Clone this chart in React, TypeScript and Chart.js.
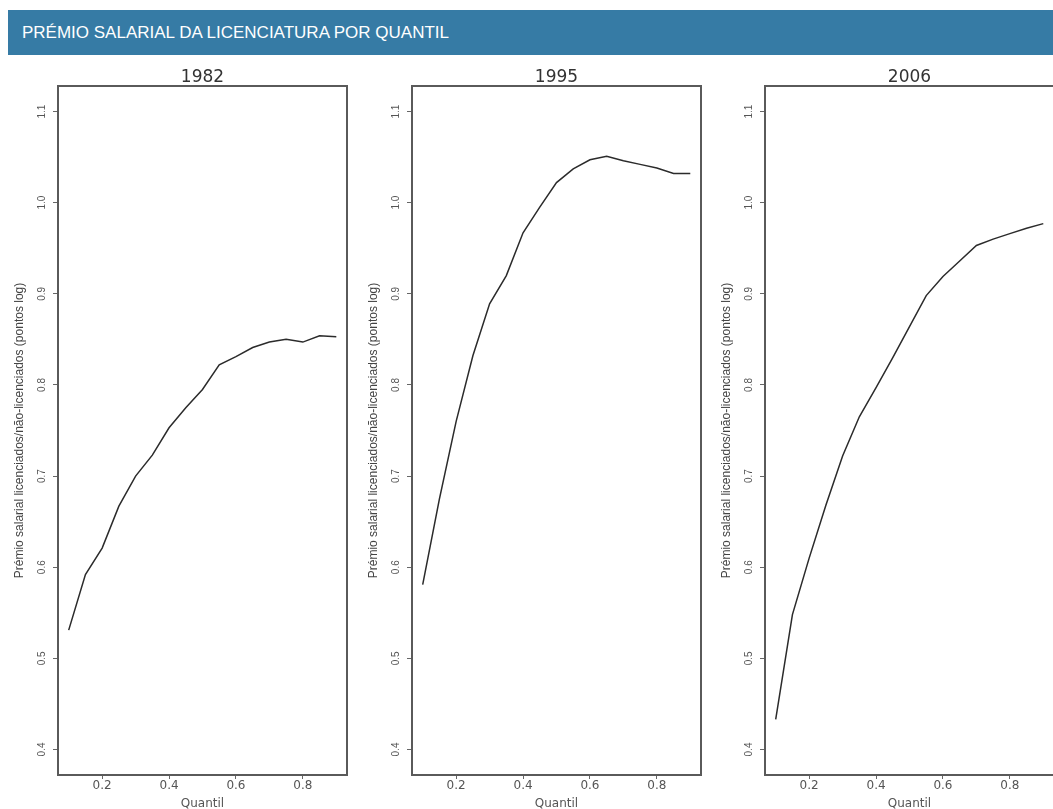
import React, { useEffect, useRef } from "react";
import { Chart, registerables } from "chart.js";

Chart.register(...registerables);

// ---------- data ----------
const headerTitle = "PRÉMIO SALARIAL DA LICENCIATURA POR QUANTIL";
const yAxisTitle = "Prémio salarial licenciados/não-licenciados (pontos log)";
const xAxisTitle = "Quantil";

const panelYears = ["1982", "1995", "2006"];

const quantiles = [0.1, 0.15, 0.2, 0.25, 0.3, 0.35, 0.4, 0.45, 0.5, 0.55, 0.6, 0.65, 0.7, 0.75, 0.8, 0.85, 0.9];

const premium1982 = [0.531, 0.592, 0.621, 0.667, 0.7, 0.723, 0.753, 0.775, 0.795, 0.822, 0.831, 0.841, 0.847, 0.85, 0.847, 0.854, 0.853];
const premium1995 = [0.581, 0.675, 0.76, 0.832, 0.889, 0.92, 0.967, 0.995, 1.022, 1.037, 1.047, 1.051, 1.046, 1.042, 1.038, 1.032, 1.032];
const premium2006 = [0.433, 0.548, 0.61, 0.668, 0.722, 0.765, 0.797, 0.83, 0.864, 0.898, 0.919, 0.936, 0.953, 0.96, 0.966, 0.972, 0.977];

const xTicks = [0.2, 0.4, 0.6, 0.8];
const yTicks = [0.4, 0.5, 0.6, 0.7, 0.8, 0.9, 1.0, 1.1];

const xRange = [0.068, 0.932];
const yRange = [0.372, 1.128];

// ---------- layout ----------
const PLOT_LEFTS = [58, 412, 765];
const PLOT_W = 289;
const AXIS_W = 46;
const RIGHT_PAD = 2;
const CANVAS_TOP = 69;
const CANVAS_H = 742;
const X_AXIS_H = 36;

const FRAME = "#5a5a5a";

function Panel({ year, values, plotLeft }: { year: string; values: number[]; plotLeft: number }) {
  const ref = useRef<HTMLCanvasElement | null>(null);
  const width = AXIS_W + PLOT_W + RIGHT_PAD;

  useEffect(() => {
    if (!ref.current) return;
    const frameBorder = { display: true, color: FRAME, width: 2 };
    const chart = new Chart(ref.current, {
      type: "line",
      data: {
        datasets: [
          {
            data: quantiles.map((q, i) => ({ x: q, y: values[i] })),
            borderColor: "#2b2b2b",
            borderWidth: 1.5,
            pointRadius: 0,
            fill: false,
            tension: 0,
          },
        ],
      },
      options: {
        responsive: false,
        animation: false,
        devicePixelRatio: 1,
        layout: { padding: { left: 0, right: RIGHT_PAD, top: 0, bottom: 0 } },
        plugins: {
          legend: { display: false },
          tooltip: { enabled: false },
          title: {
            display: true,
            text: year,
            fullSize: false,
            color: "#333",
            font: { family: "DejaVu Sans", size: 17, lineHeight: 1, weight: "normal" },
            padding: 0,
          },
        },
        scales: {
          x: {
            type: "linear",
            position: "bottom",
            min: xRange[0],
            max: xRange[1],
            afterBuildTicks: (s: any) => {
              s.ticks = xTicks.map((v) => ({ value: v }));
            },
            afterFit: (s: any) => {
              s.height = X_AXIS_H;
            },
            grid: { display: true, drawOnChartArea: false, drawTicks: true, tickLength: 4, tickColor: "#666", tickWidth: 1 },
            border: frameBorder,
            ticks: {
              autoSkip: false,
              minRotation: 0,
              maxRotation: 0,
              padding: 0,
              color: "#555",
              font: { family: "DejaVu Sans", size: 12 },
              callback: (v: any) => Number(v).toFixed(1),
            },
            title: {
              display: true,
              text: xAxisTitle,
              color: "#555",
              font: { family: "DejaVu Sans", size: 12 },
              padding: 0,
            },
          },
          xTop: {
            type: "linear",
            position: "top",
            min: xRange[0],
            max: xRange[1],
            afterFit: (s: any) => {
              s.height = 0;
            },
            grid: { display: true, drawOnChartArea: false, drawTicks: false },
            border: frameBorder,
            ticks: { display: false },
          },
          y: {
            type: "linear",
            position: "left",
            min: yRange[0],
            max: yRange[1],
            afterBuildTicks: (s: any) => {
              s.ticks = yTicks.map((v) => ({ value: v }));
            },
            afterFit: (s: any) => {
              s.width = AXIS_W;
            },
            grid: { display: true, drawOnChartArea: false, drawTicks: true, tickLength: 5, tickColor: "#666", tickWidth: 1 },
            border: frameBorder,
            ticks: {
              autoSkip: false,
              minRotation: 90,
              maxRotation: 90,
              crossAlign: "center",
              padding: 4,
              color: "#555",
              font: { family: "Liberation Sans", size: 10 },
              callback: (v: any) => Number(v).toFixed(1),
            },
            title: {
              display: true,
              text: yAxisTitle,
              color: "#444",
              font: { family: "Liberation Sans", size: 12 },
              padding: 0,
            },
          },
          yRight: {
            type: "linear",
            position: "right",
            min: yRange[0],
            max: yRange[1],
            afterFit: (s: any) => {
              s.width = 0;
            },
            grid: { display: true, drawOnChartArea: false, drawTicks: false },
            border: frameBorder,
            ticks: { display: false },
          },
        },
      } as any,
    });
    return () => chart.destroy();
  }, [year, values]);

  return (
    <canvas
      ref={ref}
      width={width}
      height={CANVAS_H}
      style={{
        position: "absolute",
        left: plotLeft - AXIS_W,
        top: CANVAS_TOP,
        width,
        height: CANVAS_H,
      }}
    />
  );
}

export default function App() {
  const series = [premium1982, premium1995, premium2006];
  return (
    <div
      style={{
        position: "fixed",
        left: 0,
        top: 0,
        width: 1053,
        height: 809,
        overflow: "hidden",
        background: "#ffffff",
      }}
    >
      <div
        style={{
          position: "absolute",
          left: 8,
          top: 10,
          width: 1045,
          height: 45,
          boxSizing: "border-box",
          paddingLeft: 14,
          background: "#367ba5",
          color: "#ffffff",
          fontFamily: "'Liberation Sans', Arial, sans-serif",
          fontSize: 17,
          lineHeight: "45px",
          whiteSpace: "nowrap",
        }}
      >
        {headerTitle}
      </div>
      {panelYears.map((y, i) => (
        <Panel key={y} year={y} values={series[i]} plotLeft={PLOT_LEFTS[i]} />
      ))}
    </div>
  );
}
